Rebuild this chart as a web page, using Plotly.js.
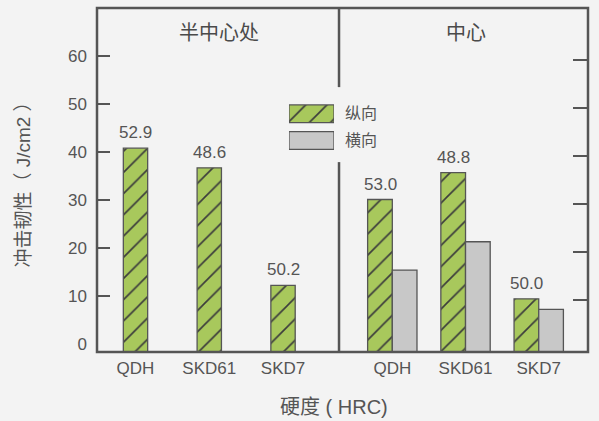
<!DOCTYPE html>
<html><head><meta charset="utf-8">
<script src="https://cdn.plot.ly/plotly-3.0.1.min.js"></script>
<style>html,body{margin:0;padding:0;background:#f3f3f3;}#chart{width:599px;height:421px;}</style>
</head><body><div id="chart"></div>
<script>
// ---- data ----
const categories = ['QDH', 'SKD61', 'SKD7'];
const panelTitles = ['半中心处', '中心'];
const seriesNames = ['纵向', '横向'];
const halfLongitudinal = [40.8, 36.7, 12.2];     // 半中心处 纵向
const centerLongitudinal = [30.1, 35.7, 9.4];    // 中心 纵向
const centerTransverse = [15.4, 21.3, 7.2];      // 中心 横向
const hardnessHalf = [52.9, 48.6, 50.2];
const hardnessCenter = [53.0, 48.8, 50.0];
const yTicks = [0, 10, 20, 30, 40, 50, 60];
const yTitle = '冲击韧性（ J/cm2 ）';
const xTitle = '硬度 ( HRC)';

// ---- style ----
const FONT = 'Liberation Sans, Arial, Noto Sans CJK SC, sans-serif';
const CJK = 'Noto Sans CJK SC, sans-serif';
const TXT = '#555555';
const EDGE = '#555555';
const GREEN = '#a8c85c';
const GRAY = '#c8c8c8';
const HATCH = '#3c3c3c';
const FLOOR = -1.67;       // y-axis bottom (frame line)
const YTOP = 70;

const hatchPattern = {shape: '/', size: 15, solidity: 0.11, fgcolor: HATCH, bgcolor: GREEN, fillmode: 'replace'};
const lenFrom = arr => arr.map(v => v - FLOOR);

const traces = [
  {type: 'bar', name: seriesNames[0], x: categories, y: lenFrom(halfLongitudinal), base: FLOOR,
   xaxis: 'x', yaxis: 'y', width: 0.33, offset: -0.165,
   marker: {color: GREEN, pattern: hatchPattern, line: {color: EDGE, width: 1.3}}, hoverinfo: 'skip'},
  {type: 'bar', name: seriesNames[0], x: categories, y: lenFrom(centerLongitudinal), base: FLOOR,
   xaxis: 'x2', yaxis: 'y', width: 0.337, offset: -0.337,
   marker: {color: GREEN, pattern: hatchPattern, line: {color: EDGE, width: 1.3}}, hoverinfo: 'skip'},
  {type: 'bar', name: seriesNames[1], x: categories, y: lenFrom(centerTransverse), base: FLOOR,
   xaxis: 'x2', yaxis: 'y', width: 0.337, offset: 0,
   marker: {color: GRAY, line: {color: EDGE, width: 1.3}}, hoverinfo: 'skip'},
  // legend swatches
  {type: 'bar', orientation: 'h', name: seriesNames[0], y: [seriesNames[0]], x: [1],
   xaxis: 'x3', yaxis: 'y3', width: 0.66,
   marker: {color: GREEN, pattern: hatchPattern, line: {color: EDGE, width: 1.3}}, hoverinfo: 'skip'},
  {type: 'bar', orientation: 'h', name: seriesNames[1], y: [seriesNames[1]], x: [1],
   xaxis: 'x3', yaxis: 'y3', width: 0.66,
   marker: {color: GRAY, line: {color: EDGE, width: 1.3}}, hoverinfo: 'skip'},
  // empty carriers so the tick-only overlay axes are drawn
  {type: 'scatter', x: [], y: [], xaxis: 'x', yaxis: 'y4', hoverinfo: 'skip', showlegend: false},
  {type: 'scatter', x: [], y: [], xaxis: 'x2', yaxis: 'y2', hoverinfo: 'skip', showlegend: false}
];

const baseX = {type: 'category', categoryarray: categories, anchor: 'y', showline: false, ticks: '',
  showgrid: false, zeroline: false, tickfont: {family: FONT, size: 17, color: TXT}, ticklabelstandoff: 4, fixedrange: true};
const plainY = {showgrid: false, zeroline: false, showline: false, fixedrange: true};

const annotations = [];
categories.forEach((c, i) => {
  annotations.push({xref: 'x', yref: 'y', x: c, y: halfLongitudinal[i], text: hardnessHalf[i].toFixed(1),
    showarrow: false, yanchor: 'bottom', yshift: 4, font: {family: FONT, size: 17, color: TXT}});
  annotations.push({xref: 'x2', yref: 'y', x: c, y: centerLongitudinal[i], text: hardnessCenter[i].toFixed(1),
    showarrow: false, yanchor: 'bottom', yshift: 4, xshift: -12.3, font: {family: FONT, size: 17, color: TXT}});
});
annotations.push({xref: 'paper', yref: 'paper', x: 0.2475, y: 0.931, text: panelTitles[0], showarrow: false,
  xanchor: 'center', yanchor: 'middle', font: {family: CJK, size: 20, color: '#4a4a4a'}});
annotations.push({xref: 'paper', yref: 'paper', x: 0.7515, y: 0.931, text: panelTitles[1], showarrow: false,
  xanchor: 'center', yanchor: 'middle', font: {family: CJK, size: 20, color: '#4a4a4a'}});
annotations.push({xref: 'paper', yref: 'paper', x: 0.4827, y: -0.16, text: xTitle, showarrow: false,
  xanchor: 'center', yanchor: 'middle', font: {family: FONT, size: 20, color: TXT}});

const layout = {
  width: 599, height: 421,
  paper_bgcolor: '#f3f3f3', plot_bgcolor: 'rgba(0,0,0,0)',
  margin: {l: 97, r: 11, t: 8, b: 69},
  showlegend: false, barmode: 'overlay',
  font: {family: FONT, size: 17, color: TXT},
  xaxis: Object.assign({}, baseX, {domain: [0, 0.4929], range: [-0.522, 2.759]}),
  xaxis2: Object.assign({}, baseX, {domain: [0.4929, 1], range: [-0.728, 2.673]}),
  xaxis3: {domain: [0.391, 0.4827], anchor: 'y3', range: [0, 1], visible: false, fixedrange: true},
  yaxis: Object.assign({}, plainY, {anchor: 'x', range: [FLOOR, YTOP], tickvals: yTicks, ticks: '',
    tickfont: {family: FONT, size: 17, color: TXT}, ticklabelstandoff: 9,
    title: {text: yTitle, standoff: 32, font: {family: FONT, size: 19, color: TXT}}}),
  yaxis4: Object.assign({}, plainY, {overlaying: 'y', anchor: 'x', side: 'left', range: [FLOOR, YTOP],
    tickvals: yTicks.slice(1), ticks: 'inside', ticklen: 13, tickwidth: 2.5, tickcolor: EDGE, showticklabels: false}),
  yaxis2: Object.assign({}, plainY, {overlaying: 'y', anchor: 'x2', side: 'right', range: [FLOOR + 0.83, YTOP + 0.83],
    tickvals: yTicks.slice(1), ticks: 'inside', ticklen: 15, tickwidth: 2.5, tickcolor: EDGE, showticklabels: false}),
  yaxis3: Object.assign({}, plainY, {domain: [0.576, 0.7313], anchor: 'x3', side: 'right', type: 'category',
    categoryarray: [seriesNames[1], seriesNames[0]], range: [-0.5, 1.5], ticks: '', ticklabelstandoff: 10,
    tickfont: {family: CJK, size: 16, color: TXT}}),
  shapes: [
    {type: 'rect', xref: 'paper', yref: 'paper', x0: 0, x1: 1, y0: 0, y1: 1, line: {color: EDGE, width: 2.5}},
    {type: 'line', xref: 'paper', yref: 'paper', x0: 0.4929, x1: 0.4929, y0: 1, y1: 0.770, line: {color: EDGE, width: 2.5}},
    {type: 'line', xref: 'paper', yref: 'paper', x0: 0.4929, x1: 0.4929, y0: 0.552, y1: 0, line: {color: EDGE, width: 2.5}}
  ],
  annotations: annotations
};

Plotly.newPlot('chart', traces, layout, {staticPlot: true, displayModeBar: false});
</script>
</body></html>
